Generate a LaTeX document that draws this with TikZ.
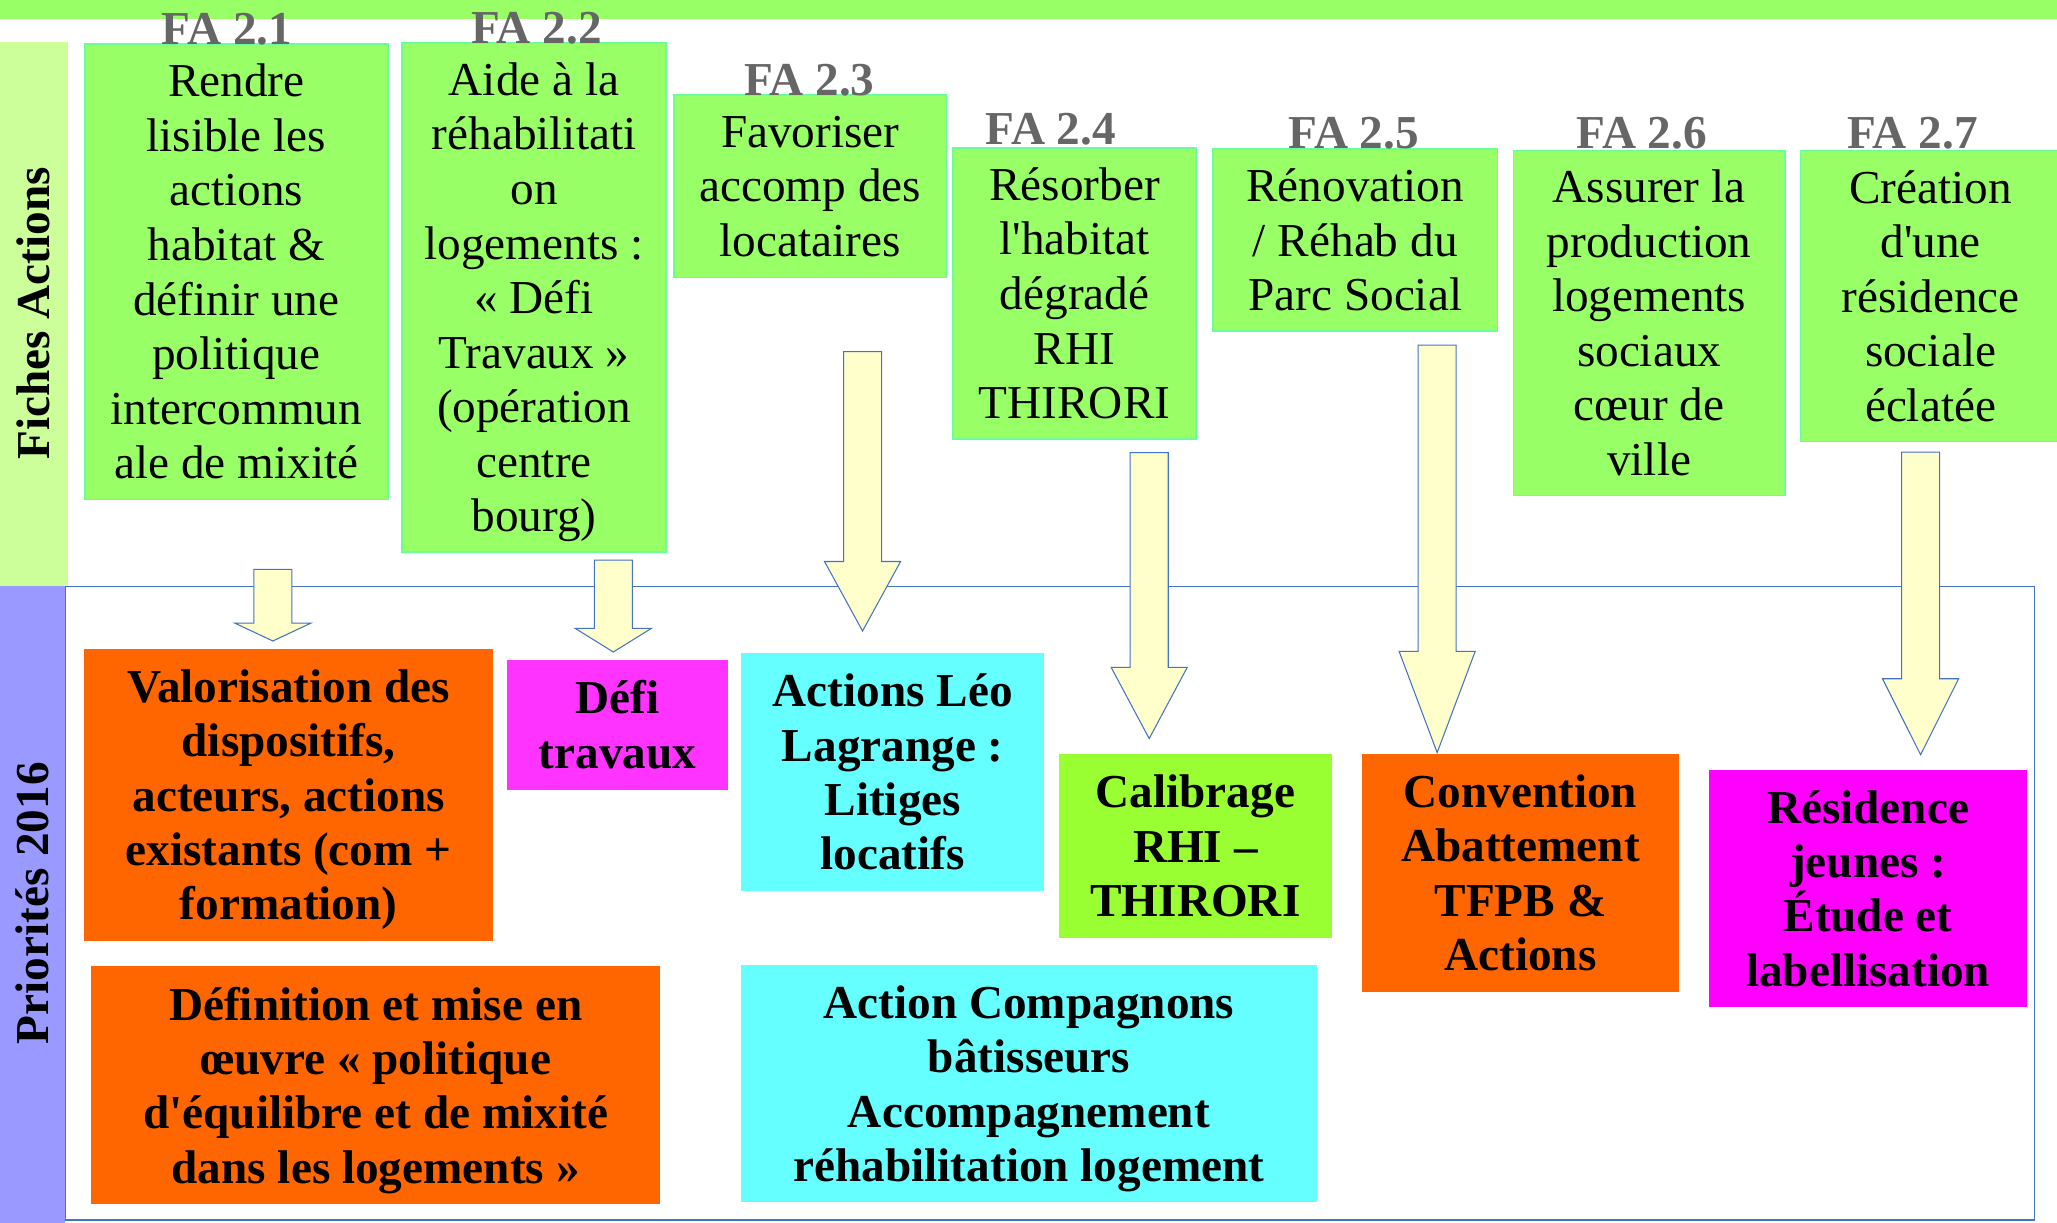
\documentclass[tikz,border=0pt]{standalone}
\usepackage{fontspec}
\setmainfont{Liberation Serif}[Ligatures=TeXOff]

\definecolor{vertfa}{RGB}{153,255,102}
\definecolor{bordfa}{RGB}{102,255,153}
\definecolor{vertpale}{RGB}{204,255,153}
\definecolor{mauve}{RGB}{153,153,255}
\definecolor{orangep}{RGB}{255,102,0}
\definecolor{rosep}{RGB}{255,51,255}
\definecolor{magentap}{RGB}{255,0,255}
\definecolor{cyanp}{RGB}{102,255,255}
\definecolor{vertvif}{RGB}{153,255,51}
\definecolor{jaunepale}{RGB}{255,255,204}
\definecolor{bleutrait}{RGB}{68,114,196}
\definecolor{grisfa}{RGB}{102,102,102}

% fleche bloc : x, haut, debut pointe, bout
\newcommand{\fleche}[4]{%
  \draw[fleche] (#1-14.5,#2) -- (#1+14.5,#2) -- (#1+14.5,#3) -- (#1+29,#3)
    -- (#1,#4) -- (#1-29,#3) -- (#1-14.5,#3) -- cycle;}

\tikzset{
  fiche/.style={draw=bordfa, fill=vertfa, line width=1.2, align=center,
    inner sep=0pt, anchor=north west, font=\fontsize{36}{41.6}\selectfont},
  numfa/.style={anchor=base, inner sep=0pt, text=grisfa,
    font=\fontsize{36}{41.6}\selectfont\bfseries},
  prio/.style={draw=#1, fill=#1, line width=1, align=center, inner sep=0pt,
    anchor=north west, font=\fontsize{36}{41.5}\selectfont\bfseries},
  bande/.style={rotate=90, inner sep=0pt, font=\fontsize{36}{41.6}\selectfont\bfseries},
  fleche/.style={draw=bleutrait, fill=jaunepale, line width=0.8}
}

\begin{document}
\begin{tikzpicture}[x=1pt,y=-1pt]
  \useasboundingbox (0,0) rectangle (1568,932);
  \fill[vertfa] (0,0) rectangle (1568,14.6);
  \fill[vertpale] (0,32) rectangle (52,447);
  \draw[bleutrait, line width=1] (49.5,447) rectangle (1551,930);
  \fill[mauve] (0,447) rectangle (49.5,932);
  \node[bande] (fiches) at (25.5,239) {Fiches Actions};
  \node[bande] (prios) at (24.5,688.5) {Priorités 2016};

  % fiches actions
  \node[fiche, minimum width=231, minimum height=347] (fa21) at (64,33)
    {Rendre\\lisible les\\actions\\habitat \&\\définir une\\politique\\intercommun\\ale de mixité};
  \node[fiche, minimum width=201, minimum height=388] (fa22) at (306,32)
    {Aide à la\\réhabilitati\\on\\logements~:\\«~Défi\\Travaux~»\\(opération\\centre\\\smash{bourg)}};
  \node[fiche, minimum width=208, minimum height=139] (fa23) at (513,72)
    {Favoriser\\accomp des\\locataires};
  \node[fiche, minimum width=185, minimum height=222] (fa24) at (726,112)
    {Résorber\\l'habitat\\dégradé\\RHI\\THIRORI};
  \node[fiche, minimum width=217, minimum height=138.5] (fa25) at (924,113)
    {Rénovation\\/ Réhab du\\Parc Social};
  \node[fiche, minimum width=207, minimum height=263] (fa26) at (1153,114)
    {Assurer la\\production\\logements\\sociaux\\cœur de\\ville};
  \node[fiche, minimum width=198, minimum height=222] (fa27) at (1372,114)
    {Création\\d'une\\résidence\\sociale\\éclatée};

  \node[numfa] (t21) at (173,34) {FA 2.1};
  \node[numfa] (t22) at (409,33) {FA 2.2};
  \node[numfa] (t23) at (617,73) {FA 2.3};
  \node[numfa] (t24) at (801,110) {FA 2.4};
  \node[numfa] (t25) at (1032,113.5) {FA 2.5};
  \node[numfa] (t26) at (1251.5,113.5) {FA 2.6};
  \node[numfa] (t27) at (1458,113.5) {FA 2.7};

  \fleche{208}{434}{475}{488.6}
  \fleche{467.5}{427}{479}{497}
  \fleche{657.5}{268}{428}{481}
  \fleche{876}{345}{508.7}{563}
  \fleche{1095.5}{263}{496.5}{573.7}
  \fleche{1464}{344.7}{517.4}{575.3}

  % priorites 2016
  \node[prio=orangep, minimum width=311, minimum height=221.5] (valo) at (64,494.5)
    {Valorisation des\\dispositifs,\\acteurs, actions\\existants (com +\\\smash{formation)}};
  \node[prio=rosep, minimum width=167.6, minimum height=98] (defi) at (386.4,503)
    {Défi\\travaux};
  \node[prio=cyanp, minimum width=230, minimum height=180] (leo) at (565,498)
    {Actions Léo\\Lagrange~:\\Litiges\\locatifs};
  \node[prio=vertvif, minimum width=206.5, minimum height=138.7] (calib) at (807.5,575)
    {Calibrage\\RHI –\\THIRORI};
  \node[prio=orangep, minimum width=241, minimum height=180] (conv) at (1038,575)
    {Convention\\Abattement\\TFPB \&\\Actions};
  \node[prio=magentap, minimum width=241, minimum height=180] (resid) at (1303,586.8)
    {Résidence\\jeunes~:\\Étude et\\labellisation};
  \node[prio=orangep, minimum width=433, minimum height=180] (defin) at (69.4,736.6)
    {Définition et mise en\\œuvre «~politique\\d'équilibre et de mixité\\\smash{dans les logements~»}};
  \node[prio=cyanp, minimum width=437.7, minimum height=180] (compa) at (565,735.6)
    {Action Compagnons\\bâtisseurs\\Accompagnement\\\smash{réhabilitation logement}};
\end{tikzpicture}
\end{document}
